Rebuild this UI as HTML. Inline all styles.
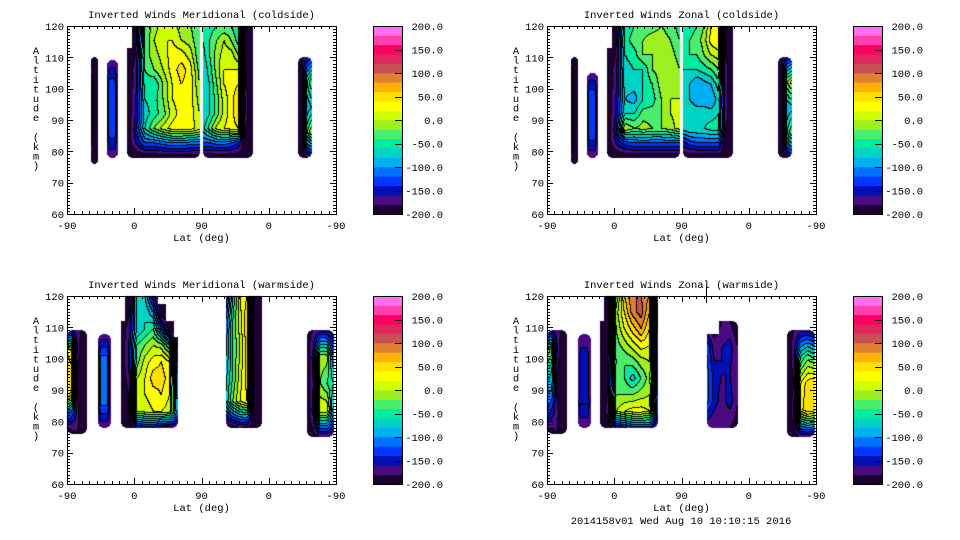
<!DOCTYPE html>
<html><head><meta charset="utf-8">
<style>
html,body{margin:0;padding:0;background:#fff;}
#wrap{position:relative;width:960px;height:540px;overflow:hidden;}
canvas{position:absolute;left:0;top:0;}
svg{position:absolute;left:0;top:0;}
text{font-family:"Liberation Mono",monospace;font-size:10.5px;fill:#000;}
</style></head>
<body>
<div id="wrap">
<canvas id="cv" width="960" height="540"></canvas>
<svg id="sv" width="960" height="540"></svg>
</div>
<script>
const bandColors = ["#1c0032","#4a0a82","#0010b4","#0036ff","#0072ff","#00b0f0","#00d2c4","#00eaa0","#48ee6c","#9cf020","#d0ff00","#ffff00","#ffe000","#ffb000","#e08030","#c85050","#e02860","#ff0060","#ff40b0","#ff70f0"];
const cbLabels = ["200.0","150.0","100.0","50.0","0.0","-50.0","-100.0","-150.0","-200.0"];
const cbLabelValues = [200,150,100,50,0,-50,-100,-150,-200];
const xTickLabels = ["-90","0","90","0","-90"];
const yTickLabels = ["120","110","100","90","80","70","60"];
const yTickValues = [120,110,100,90,80,70,60];
const titles = ["Inverted Winds Meridional (coldside)","Inverted Winds Zonal (coldside)","Inverted Winds Meridional (warmside)","Inverted Winds Zonal (warmside)"];
const p1Blobs = [
 [32,41,76,110,[[-190,-200,-190],[-80,-200,-180],[-190,-200,-190]]],
 [54,68,78,109,[[-175,-175,-175,-175,-175],[-175,-130,-130,-130,-175],[-175,-130,-130,-130,-175],[-175,-130,-130,-130,-175],[-175,-175,-175,-175,-175]]],
 [80,178,78,120,[
  [null,-200,-40,-10,10,10,-10,-20,-40],
  [null,-190,-40,0,20,20,0,-10,-40],
  [-200,-180,-30,-10,10,30,30,10,-40],
  [-200,-170,-40,-20,0,30,50,30,-30],
  [-200,-170,-50,-60,-20,20,40,30,-20],
  [-200,-160,-60,-50,-20,20,30,30,-10],
  [-200,-160,-70,-50,-30,10,30,30,0],
  [-200,-150,-60,-20,10,30,30,30,10],
  [-200,-160,-120,-120,-110,-100,-100,-110,-110],
  [-200,-200,-200,-200,-200,-200,-200,-200,-200]]],
 [182,249,78,120,[
  [-60,-50,-40,-40,-40,-60,-200,-200],
  [-60,-40,-20,0,-20,-50,-200,-200],
  [-70,-40,-10,10,10,-20,-200,-200],
  [-80,-50,-10,20,20,20,-190,-200],
  [-80,-60,-20,20,30,40,-180,-200],
  [-80,-60,-30,10,30,60,-170,-200],
  [-80,-60,-30,10,30,60,-170,-200],
  [-70,-30,10,20,30,40,-180,-200],
  [-120,-120,-110,-110,-120,-140,-200,-200],
  [-200,-200,-200,-200,-200,-200,-200,-200]]],
 [309,328,78,110,[[-200,-180,-160,-150],[-200,-190,-60,-20],[-200,-180,-100,-80],[-200,-190,-40,0],[-200,-200,-180,-170]]]
];
const p2Blobs = [
 [32,41,76,110,[[-190,-200,-190],[10,-200,-190],[-190,-200,-190]]],
 [54,68,78,105,[[-175,-175,-175,-175,-175],[-175,-130,-130,-130,-175],[-175,-130,-130,-130,-175],[-175,-130,-130,-130,-175],[-175,-175,-175,-175,-175]]],
 [80,178,78,120,[
  [null,-200,-60,-40,-30,-30,-20,-30,-50],
  [null,-190,-50,-30,-20,-10,-10,-20,-40],
  [-200,-180,-60,-50,-20,-20,-10,-10,-30],
  [-200,-170,-70,-60,-60,-20,-10,0,-20],
  [-200,-170,-70,-70,-60,-40,-10,0,-10],
  [-200,-160,-80,-90,-60,-50,-20,0,0],
  [-200,-160,-60,-60,-30,-30,-20,0,10],
  [-200,-150,0,-20,-10,-20,-20,-10,10],
  [-200,-160,-130,-120,-120,-120,-120,-120,-120],
  [-200,-200,-200,-200,-200,-200,-200,-200,-200]]],
 [182,249,78,120,[
  [-60,-50,-40,-20,20,40,-200,-200],
  [-60,-40,-30,-10,30,40,-190,-200],
  [-60,-40,-40,-20,0,10,-180,-200],
  [-60,-60,-60,-50,-40,-20,-170,-200],
  [-70,-80,-100,-90,-80,-50,-170,-200],
  [-70,-80,-90,-90,-100,-70,-170,-200],
  [-60,-70,-70,-70,-70,-60,-170,-200],
  [-70,-60,-60,-60,-50,-50,-180,-200],
  [-150,-130,-120,-120,-120,-120,-200,-200],
  [-200,-200,-200,-200,-200,-200,-200,-200]]],
 [309,328,78,110,[[-200,-180,-160,-150],[-200,-190,-20,10],[-200,-190,-100,-90],[-200,-190,-60,-20],[-200,-200,-170,-160]]]
];
const p3Blobs = [
 [0,27,76,109,[[-180,-170,-170,-180,-200],[40,20,-150,-200,-200],[60,50,-190,-200,-200],[60,40,-190,-200,-200],[-100,-130,-160,-200,-200],[-200,-190,-180,-190,-200]]],
 [41,59,78,108,[[-175,-175,-175,-175,-175],[-175,-115,-115,-115,-175],[-175,-115,-115,-115,-175],[-175,-115,-115,-115,-175],[-175,-175,-175,-175,-175]]],
 [72,149,78,120,[
  [null,-200,-70,-80,-160,null,null,null],
  [null,-190,-70,-60,-100,-200,null,null],
  [-200,-170,-80,-60,-40,-120,-200,null],
  [-200,-160,-40,-20,0,-10,-60,-200],
  [-200,-160,-30,10,30,40,20,-150],
  [-200,-170,0,20,50,50,30,-120],
  [-200,-180,10,20,30,40,20,-110],
  [-200,-180,0,10,20,20,10,-100],
  [-200,-200,-160,-150,-150,-170,-170,-200]]],
 [213,261,78,120,[[-170,-60,20,40,-200,-200],[-120,-40,10,60,-200,-200],[-110,-40,0,50,-200,-200],[-90,-40,10,50,-190,-200],[-80,-20,20,40,-190,-200],[-200,-190,-180,-190,-200,-200]]],
 [321,357,75,109,[[-190,-180,-170,-170,-180],[-200,-150,-10,-10,-100],[-200,-160,-20,-40,-60],[-200,-150,20,20,-90],[-200,-190,-180,-180,-190]]]
];
const p4Blobs = [
 [0,27,76,109,[[-180,-170,-170,-180,-200],[0,-30,-150,-200,-200],[-60,-80,-180,-200,-200],[-100,-100,-180,-200,-200],[-120,-150,-170,-200,-200],[-200,-190,-180,-190,-200]]],
 [41,59,78,108,[[-175,-175,-175,-175,-175],[-175,-150,-150,-150,-175],[-175,-150,-150,-150,-175],[-175,-140,-140,-140,-175],[-175,-175,-175,-175,-175]]],
 [71,149,78,120,[
  [null,-200,-40,60,100,100,80,-200],
  [null,-200,-10,40,90,110,60,-200],
  [-200,-200,-20,20,50,80,40,-200],
  [-200,-190,-30,-10,10,30,20,-180],
  [-200,-180,-40,-40,-30,-10,0,-160],
  [-200,-180,-30,-40,-70,-40,-10,-150],
  [-200,-180,-20,-20,-20,-10,0,-150],
  [-200,-170,0,20,30,30,20,-140],
  [-200,-200,-160,-150,-130,-130,-130,-200]]],
 [214,256,78,112,[[null,null,-180,-180,-200],[-120,-170,-160,-150,-180],[-110,-150,-160,-160,-180],[-110,-150,-170,-150,-180],[-180,-180,-180,-180,-190]]],
 [321,358,75,109,[[-190,-180,-170,-170,-180],[-200,-170,-60,-30,-50],[-200,-180,20,50,60],[-200,-170,30,60,50],[-200,-190,-180,-180,-190]]]
];
const panelBlobs = [p1Blobs,p2Blobs,p3Blobs,p4Blobs];

const PW=269, PH=188;
const origins=[[67,26],[547,26],[67,296],[547,296]];
function xScale(u,ox){return ox+u*PW/360;}
function yScale(a,oy){return oy+(120-a)*PH/60;}
function vScale(v,oy){return oy+(200-v)*PH/400;}

const ctx=document.getElementById('cv').getContext('2d');
const svg=document.getElementById('sv');
const NS="http://www.w3.org/2000/svg";
function mk(tag,attrs,parent){const e=document.createElementNS(NS,tag);for(const k in attrs)e.setAttribute(k,attrs[k]);(parent||svg).appendChild(e);return e;}

panelBlobs.forEach((blobs,pi)=>{
  const [ox,oy]=origins[pi];
  const band=new Int16Array(PW*PH).fill(-1);
  blobs.forEach(b=>{
    const [u0,u1,a0,a1,g]=b;
    const rows=g.length, cols=g[0].length;
    const x0=Math.round(xScale(u0,0)), x1=Math.round(xScale(u1,0));
    const y0=Math.round(yScale(a1,0)), y1=Math.round(yScale(a0,0));
    const R=Math.min(6,(x1-x0)/2);
    for(let y=y0;y<y1;y++){for(let x=x0;x<x1;x++){
      if(x<0||x>=PW||y<0||y>=PH)continue;
      // rounded corners (except at the top frame edge)
      const px=x+0.5, py=y+0.5;
      const cxr=px<x0+R?x0+R:(px>x1-R?x1-R:px);
      const cyr=py<y0+R?y0+R:(py>y1-R?y1-R:py);
      if(y0>0||py>y0+R){ if((px-cxr)**2+(py-cyr)**2>R*R)continue; }
      else if(py>y1-R && (px-cxr)**2+(py-cyr)**2>R*R)continue;
      const fx=(px-x0)/(x1-x0)*(cols-1), fy=(py-y0)/(y1-y0)*(rows-1);
      const nx=Math.round(fx), ny=Math.round(fy);
      if(g[ny][nx]===null)continue;
      const ix=Math.max(0,Math.min(Math.floor(fx),cols-2)), iy=Math.max(0,Math.min(Math.floor(fy),rows-2));
      const tx=fx-ix, ty=fy-iy;
      const gv=(r,c)=>{const v=g[r][Math.min(c,cols-1)];return v===null?-200:v;};
      const v=gv(iy,ix)*(1-tx)*(1-ty)+gv(iy,ix+1)*tx*(1-ty)+gv(iy+1,ix)*(1-tx)*ty+gv(iy+1,ix+1)*tx*ty;
      band[y*PW+x]=Math.max(0,Math.min(19,Math.floor((v+200)/20)));
    }}
  });
  for(let y=0;y<PH;y++)for(let x=0;x<PW;x++){
    const b=band[y*PW+x]; if(b<0)continue;
    const r=x+1<PW?band[y*PW+x+1]:-1, d=y+1<PH?band[(y+1)*PW+x]:-1;
    const line=(r>=0&&r!==b)||(d>=0&&d!==b);
    ctx.fillStyle=line?"#000":bandColors[b];
    ctx.fillRect(ox+x,oy+y,1,1);
  }
  const g=mk('g',{});
  
  
  const fr=mk('rect',{x:ox+0.5,y:oy+0.5,width:PW,height:PH,fill:'none',stroke:'#000','stroke-width':1},g);
  
  for(let i=0;i<=36;i++){const x=Math.round(xScale(i*10,ox))+0.5;const L=i%9===0?6:3;
    mk('line',{x1:x,x2:x,y1:oy+PH,y2:oy+PH-L,stroke:'#000'},g);mk('line',{x1:x,x2:x,y1:oy,y2:oy+L,stroke:'#000'},g);}
  for(let a=60;a<=120;a++){const y=Math.round(yScale(a,oy))+0.5;const L=a%10===0?6:3;
    mk('line',{x1:ox,x2:ox+L,y1:y,y2:y,stroke:'#000'},g);mk('line',{x1:ox+PW,x2:ox+PW-L,y1:y,y2:y,stroke:'#000'},g);}
  xTickLabels.forEach((t,i)=>{const e=mk('text',{x:xScale(i*90,ox),y:oy+PH+15,'text-anchor':'middle'},g);e.textContent=t;
    });
  yTickLabels.forEach((t,i)=>{const e=mk('text',{x:ox-3,y:yScale(yTickValues[i],oy)+4,'text-anchor':'end'},g);e.textContent=t;
    });
  const xt=mk('text',{x:ox+PW/2,y:oy+PH+27,'text-anchor':'middle'},g);xt.textContent="Lat (deg)";
  
  const tt=mk('text',{x:ox+PW/2,y:oy-8,'text-anchor':'middle'},g);tt.textContent=titles[pi];
  
  const yt=mk('text',{x:ox-31,y:oy+28,'text-anchor':'middle'},g);
  
  "Altitude (km)".split('').forEach((c,k)=>{const s=mk('tspan',{x:ox-31,y:oy+28+k*9.6},yt);s.textContent=c;});
  const cx=ox+306, cw=29;
  const cb=mk('g',{},g);
  bandColors.forEach((c,k)=>{const y0=vScale(-200+(k+1)*20,oy),y1=vScale(-200+k*20,oy);
    const r=mk('rect',{x:cx,y:y0,width:cw,height:y1-y0+0.3,fill:c},cb);
    });
  mk('rect',{x:cx+0.5,y:oy+0.5,width:cw,height:PH,fill:'none',stroke:'#000'},cb);
  cbLabelValues.forEach((v,k)=>{const y=vScale(v,oy);
    if(v>-200&&v<200)mk('line',{x1:cx+cw-7,x2:cx+cw,y1:Math.round(y)+0.5,y2:Math.round(y)+0.5,stroke:'#000'},cb);
    const e=mk('text',{x:cx+70,y:y+4,'text-anchor':'end'},cb);e.textContent=cbLabels[k];
    });
});
mk('line',{x1:706.5,x2:706.5,y1:286,y2:303,stroke:'#000'});
const ts=mk('text',{x:681,y:524,'text-anchor':'middle'});ts.textContent="2014158v01 Wed Aug 10 10:10:15 2016";

</script>
</body></html>
